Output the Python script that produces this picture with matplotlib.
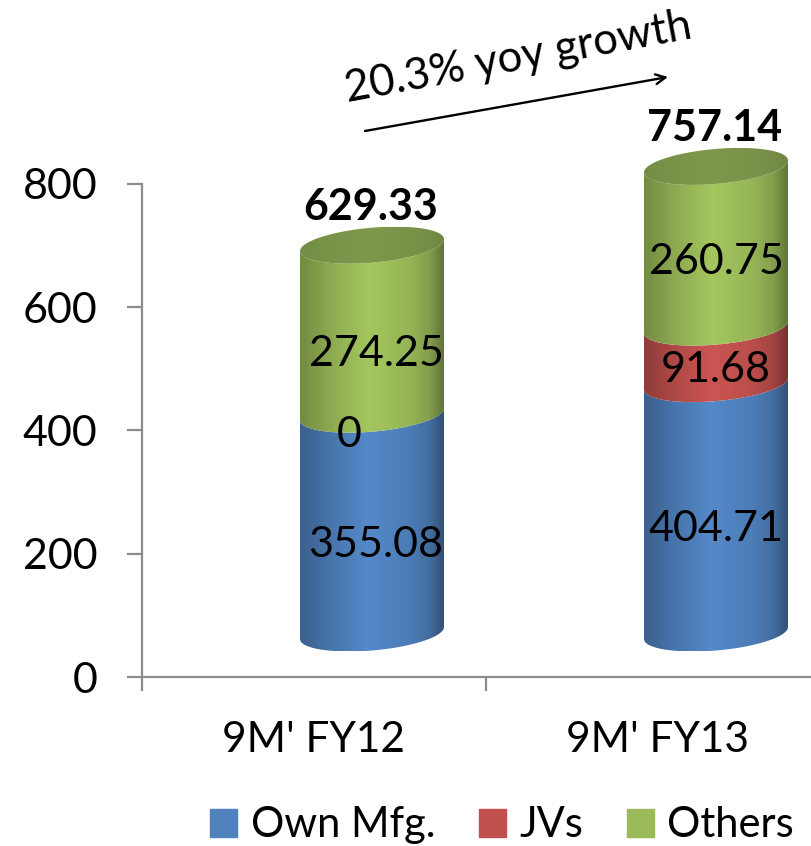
import numpy as np
from matplotlib import pyplot as plt
from matplotlib.patches import Patch, Polygon

# values
periodos = ["9M' FY12", "9M' FY13"]
series = ["Own Mfg.", "JVs", "Others"]
own_mfg = [355.08, 404.71]
jvs = [0, 91.68]
others = [274.25, 260.75]
totais = ["629.33", "757.14"]
rotulos = [["355.08", "0", "274.25"], ["404.71", "91.68", "260.75"]]
yticks = [0, 200, 400, 600, 800]

cores = ["#4F81BD", "#C0504D", "#9BBB59"]
cor_topo = "#7A9349"
# how far each label sits below the middle of its segment, pixels
desvio_rotulos = [[21, 21, 24], [21, 15, 15]]
desvio_x_rotulos = [[4, -23, 4], [0, 0, 0]]

plt.rcParams['font.family'] = ['Lato', 'DejaVu Sans']

W, H = 812, 846
fig = plt.figure(figsize=(W / 100, H / 100), dpi=100)
ax = fig.add_axes([142 / W, (H - 677) / H, 670 / W, 493 / H])
ax.set_xlim(0, 670 / 344)
ax.set_ylim(0, 800)

px_x = 344            # pixels per category
px_y = 493 / 800      # pixels per unit
desl_x = 58 / px_x    # fake 3d depth
desl_y = 44 / px_y
a = 72 / px_x
b = 17.5 / px_y
incl = (6 / px_y) / a


def arco(cx, y0, t):
    x = cx + a * np.cos(t)
    y = y0 + b * np.sin(t) + incl * (x - cx)
    return np.column_stack([x, y])


def sombra(cor, pontos):
    base = np.array(plt.matplotlib.colors.to_rgb(cor))
    pos = np.linspace(0, 1, 200)
    luz = np.interp(pos, [0, 0.2, 0.47, 0.75, 0.9, 1], pontos)
    return np.clip(base[None, None, :] * luz[None, :, None], 0, 1)


def pinta(poly, cor, cx, pontos):
    ys = poly[:, 1]
    img = ax.imshow(sombra(cor, pontos), extent=[cx - a, cx + a, ys.min(), ys.max()],
                    aspect='auto', zorder=3, interpolation='bilinear')
    img.set_clip_box(fig.bbox)
    img.set_clip_path(Polygon(poly, closed=True, transform=ax.transData))


luz_lado = [0.74, 0.9, 1.06, 0.97, 0.85, 0.62]
luz_topo = [0.95, 1.0, 1.03, 1.0, 0.97, 0.9]

baixo = np.linspace(np.pi, 2 * np.pi, 80)
for i in range(len(periodos)):
    cx = i + 0.5 + desl_x
    y = desl_y
    for j, vals in enumerate([own_mfg, jvs, others]):
        v = vals[i]
        if v > 0:
            poly = np.vstack([arco(cx, y, baixo), arco(cx, y + v, baixo[::-1])])
            pinta(poly, cores[j], cx, luz_lado)
        meio = y + v / 2
        ax.annotate(rotulos[i][j], (cx, meio), xytext=(desvio_x_rotulos[i][j] / 1.389, -desvio_rotulos[i][j] / 1.389),
                    textcoords='offset points', ha='center', va='center', fontsize=31, zorder=5)
        y += v
    topo = arco(cx, y, np.linspace(0, 2 * np.pi, 160))
    pinta(topo, cor_topo, cx, luz_topo)
    ax.annotate(totais[i], (cx, y), xytext=(-1, 38 / 1.389), textcoords='offset points',
                ha='center', va='center', fontsize=31, fontweight='bold', zorder=5,
                annotation_clip=False)

ax.set_xlim(0, 670 / 344)
ax.set_ylim(0, 800)

for lado in ['top', 'right']:
    ax.spines[lado].set_visible(False)
for lado in ['left', 'bottom']:
    ax.spines[lado].set_color('#8C8C8C')
    ax.spines[lado].set_linewidth(1.6)

ax.set_yticks(yticks)
ax.set_xticks([0, 1])
ax.set_xticklabels([])
ax.set_xticks([0.5, 1.5], periodos, minor=True)
ax.tick_params(axis='y', length=11, width=1.6, color='#8C8C8C', pad=21, labelsize=31)
ax.tick_params(axis='x', which='major', length=10, width=1.6, color='#8C8C8C')
ax.tick_params(axis='x', which='minor', length=0, pad=32, labelsize=30.5)

fig.legend(handles=[Patch(color=c, label=s) for c, s in zip(cores, series)],
           loc='lower right', bbox_to_anchor=(794 / W, 0.002), ncols=3, frameon=False, fontsize=30,
           handlelength=0.65, handleheight=0.65, handletextpad=0.32, columnspacing=1.05,
           borderpad=0, borderaxespad=0)

ax.annotate('', xy=(668 / W, 1 - 77 / H), xytext=(365 / W, 1 - 131 / H), xycoords='figure fraction',
            textcoords='figure fraction', annotation_clip=False,
            arrowprops=dict(arrowstyle='->,head_length=0.7,head_width=0.35', lw=1.7, color='black',
                            shrinkA=0, shrinkB=0))
fig.text(518 / W, 1 - 58 / H, "20.3% yoy growth", rotation=10.5, rotation_mode='anchor',
         ha='center', va='center', fontsize=31.5)

fig.savefig('out.png', dpi=100)
